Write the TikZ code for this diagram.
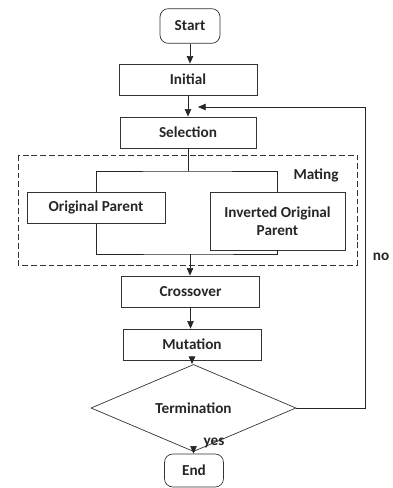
\documentclass[tikz,border=0pt]{standalone}
\usepackage{fontspec}
\setmainfont{Carlito}
\usetikzlibrary{arrows.meta,shapes.geometric}
\begin{document}
\begin{tikzpicture}[x=0.3mm, y=-0.3mm,
		every node/.style={font=\fontsize{13}{15}\selectfont\bfseries, text=black!85},
		block/.style={rectangle, draw=black!80, line width=0.6pt, minimum width=41.4mm, minimum height=9.3mm, inner sep=1pt},
		terminal/.style={rectangle, rounded corners=2.5mm, draw=black!80, line width=0.6pt, minimum width=18mm, minimum height=10.4mm},
		decision/.style={diamond, draw=black!80, line width=0.6pt, minimum width=61.5mm, minimum height=15mm, inner sep=0pt},
		arr/.style={-{Triangle[length=6.5pt, width=5.5pt]}, draw=black!85, line width=0.6pt},
		link/.style={draw=black!85, line width=0.6pt}]
		\useasboundingbox (0,0) rectangle (393,488);
		\node[terminal](start) at (190,26){Start};
		\node[block](init) at (188,79.5){Initial};
		\node[block, minimum width=40.8mm](sel) at (188,132.5){Selection};
		\draw [dashed, dash pattern=on 5pt off 2.5pt, draw=black!80, line width=0.6pt] (18,155) rectangle (357,265);
		\node(mating) at (316,175){Mating};
		\node[block](op) at (96,207.5){Original Parent};
		\node[block, minimum width=40.5mm, minimum height=17.4mm, align=center](iop) at (277.5,221){Inverted Original\\Parent};
		\node[block](cross) at (190.5,291.5){Crossover};
		\node[block](mut) at (192,344.5){Mutation};
		\node[decision](term) at (193.5,408){Termination};
		\node[terminal, minimum width=17.7mm, minimum height=9.9mm](end) at (194,470.5){End};
		\node(yes) at (214,443){yes};
		\node(no) at (381,257){no};
		\coordinate(split) at (188,171);
		\coordinate(join) at (190,254);
		\coordinate(back) at (365,107);
		\coordinate(loop) at (198,107);
		\draw [arr] (start.south) -- (start.south |- init.north);
		\draw [arr] (init.south) -- (init.south |- sel.north);
		\draw [link] (sel.south) -- (split);
		\draw [link] (op.north) |- (split) -| (iop.north);
		\draw [link] (op.south) |- (join) -| (iop.south);
		\draw [arr] (join) -- (join |- cross.north);
		\draw [arr] (cross.south) -- (cross.south |- mut.north);
		\draw [arr] (mut.south) -- (mut.south |- term.north);
		\draw [arr] (term.south) -- (term.south |- end.north);
		\draw [arr] (term.east) -| (back) -- (loop);
	\end{tikzpicture}
\end{document}
